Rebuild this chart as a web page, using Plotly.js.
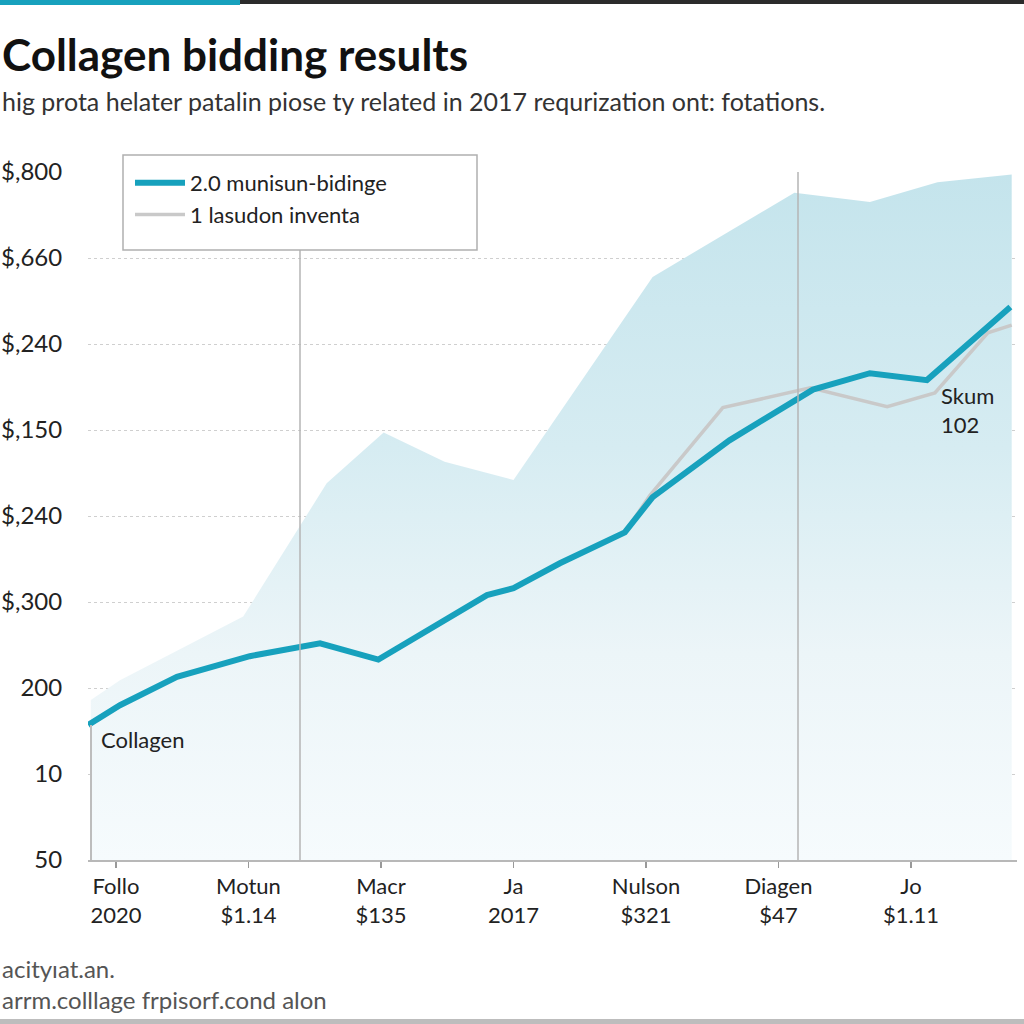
<!DOCTYPE html>
<html>
<head>
<meta charset="utf-8">
<script src="https://cdn.plot.ly/plotly-3.0.1.min.js"></script>
<style>html,body{margin:0;padding:0;background:#fff;}#chart{width:1024px;height:1024px;}</style>
</head>
<body>
<div id="chart"></div>
<script>
// ---- data ----
const categories = ["Follo<br>2020", "Motun<br>$1.14", "Macr<br>$135", "Ja<br>2017", "Nulson<br>$321", "Diagen<br>$47", "Jo<br>$1.11"];
const categoryPos = [0, 1, 2, 3, 4, 5, 6];
const yTickVals = [8, 7, 6, 5, 4, 3, 2, 1, 0];
const yTickText = ["$,800", "$,660", "$,240", "$,150", "$,240", "$,300", "200", "10", "50"];

const biddingX = [-0.21, 0.03, 0.46, 1.01, 1.54, 1.98, 2.80, 3.00, 3.35, 3.84, 4.05, 4.63, 5.26, 5.69, 6.12, 6.75];
const biddingY = [1.57, 1.80, 2.13, 2.37, 2.52, 2.33, 3.08, 3.16, 3.45, 3.81, 4.22, 4.88, 5.47, 5.66, 5.58, 6.43];

const inventaX = [3.84, 4.03, 4.58, 5.24, 5.82, 6.18, 6.58, 6.76];
const inventaY = [3.81, 4.24, 5.26, 5.49, 5.27, 5.43, 6.13, 6.22];

const areaX = [-0.19, 0.03, 0.96, 1.59, 2.02, 2.48, 3.00, 4.05, 5.12, 5.69, 6.20, 6.76];
const areaY = [1.86, 2.09, 2.83, 4.38, 4.97, 4.63, 4.42, 6.78, 7.76, 7.65, 7.88, 7.97];

// ---- layout geometry ----
const L = 88, T = 172, PW = 929, PH = 688;
const B = T + PH;
const px = x => (x - L) / PW;
const py = y => (B - y) / PH;

const TEAL = '#17a1bd';
const GRAY = '#c9c9c9';
const FONT = 'Lato, "Open Sans", sans-serif';

const traces = [
  {
    x: areaX, y: areaY, type: 'scatter', mode: 'lines',
    line: {width: 0, color: 'rgba(0,0,0,0)'},
    fill: 'tozeroy',
    fillgradient: {type: 'vertical', start: 0, stop: 8,
      colorscale: [[0, 'rgba(246,251,253,1)'], [0.3, 'rgba(236,245,248,1)'], [0.6, 'rgba(214,236,242,1)'], [1, 'rgba(196,228,236,1)']]},
    showlegend: false, hoverinfo: 'skip'
  },
  {
    x: inventaX, y: inventaY, type: 'scatter', mode: 'lines',
    name: '1 lasudon inventa',
    line: {color: GRAY, width: 3.5}
  },
  {
    x: biddingX, y: biddingY, type: 'scatter', mode: 'lines',
    name: '2.0 munisun-bidinge',
    line: {color: TEAL, width: 6}
  }
];

const shapes = [
  // top bar
  {type: 'rect', xref: 'paper', yref: 'paper', x0: px(0), x1: px(240), y0: py(0), y1: py(5), fillcolor: TEAL, line: {width: 0}, layer: 'above'},
  {type: 'rect', xref: 'paper', yref: 'paper', x0: px(240), x1: px(1024), y0: py(0), y1: py(4), fillcolor: '#2b2b2b', line: {width: 0}, layer: 'above'},
  // bottom strip
  {type: 'rect', xref: 'paper', yref: 'paper', x0: px(0), x1: px(1024), y0: py(1019), y1: py(1024), fillcolor: '#bdbdbd', line: {width: 0}},
  // vertical reference lines
  {type: 'line', xref: 'paper', yref: 'paper', x0: px(300), x1: px(300), y0: py(250), y1: py(860), line: {color: '#b5b5b5', width: 1.5}, layer: 'above'},
  {type: 'line', xref: 'paper', yref: 'paper', x0: px(798), x1: px(798), y0: py(172), y1: py(860), line: {color: '#b5b5b5', width: 1.5}, layer: 'above'},
  // left edge line
  {type: 'line', xref: 'paper', yref: 'paper', x0: px(91), x1: px(91), y0: py(725), y1: py(860), line: {color: '#bdbdbd', width: 2}, layer: 'above'},
  // legend box
  {type: 'rect', xref: 'paper', yref: 'paper', x0: px(123), x1: px(477), y0: py(155), y1: py(250), fillcolor: 'white', line: {color: '#b0b0b0', width: 1.5}, layer: 'above'}
];

const ann = (text, x, y, size, opts) => Object.assign({
  text: text, xref: 'paper', yref: 'paper', x: px(x), y: py(y), showarrow: false,
  xanchor: 'left', yanchor: 'middle', align: 'left',
  font: {family: FONT, size: size, color: '#222'}
}, opts || {});

const annotations = [
  ann('<b>Collagen bidding results</b>', 0, 54, 44, {font: {family: FONT, size: 44, color: '#111'}}),
  ann('hig prota helater patalin piose ty related in 2017 requrization ont: fotations.', 0, 101, 25, {font: {family: FONT, size: 25, color: '#333'}}),
  ann('Collagen', 99, 739, 22),
  ann('Skum<br>102', 939, 380, 22, {yanchor: 'top'}),
  ann('acityıat.an.', 0, 968, 24, {font: {family: FONT, size: 24, color: '#555'}}),
  ann('arrm.colllage frpisorf.cond alon', 0, 999, 24, {font: {family: FONT, size: 24, color: '#555'}})
];

const layout = {
  width: 1024, height: 1024,
  margin: {l: L, r: 1024 - L - PW, t: T, b: 1024 - B, pad: 0},
  paper_bgcolor: '#ffffff', plot_bgcolor: '#ffffff',
  font: {family: FONT, color: '#222'},
  xaxis: {
    range: [-0.2113, -0.2113 + PW / 132.5],
    tickvals: categoryPos, ticktext: categories,
    showgrid: false, zeroline: false,
    showline: true, linecolor: '#b8b8b8', linewidth: 2,
    ticks: 'outside', ticklen: 6, tickcolor: '#999', tickwidth: 1.5,
    tickfont: {family: FONT, size: 22, color: '#222'},
    fixedrange: true
  },
  yaxis: {
    range: [0, 8],
    tickvals: yTickVals, ticktext: yTickText,
    showgrid: true, gridcolor: '#cfcfcf', griddash: 'dot', gridwidth: 1,
    zeroline: false, showline: false,
    ticks: 'outside', ticklen: 20, tickcolor: 'rgba(0,0,0,0)',
    tickfont: {family: FONT, size: 24, color: '#222'},
    fixedrange: true
  },
  showlegend: true,
  legend: {
    x: px(130), y: py(162), xanchor: 'left', yanchor: 'top',
    bgcolor: 'rgba(0,0,0,0)', borderwidth: 0,
    font: {family: FONT, size: 22, color: '#222'},
    traceorder: 'reversed', itemwidth: 50, tracegroupgap: 0
  },
  shapes: shapes,
  annotations: annotations
};

Plotly.newPlot('chart', traces, layout, {displayModeBar: false, staticPlot: true});
</script>
</body>
</html>
